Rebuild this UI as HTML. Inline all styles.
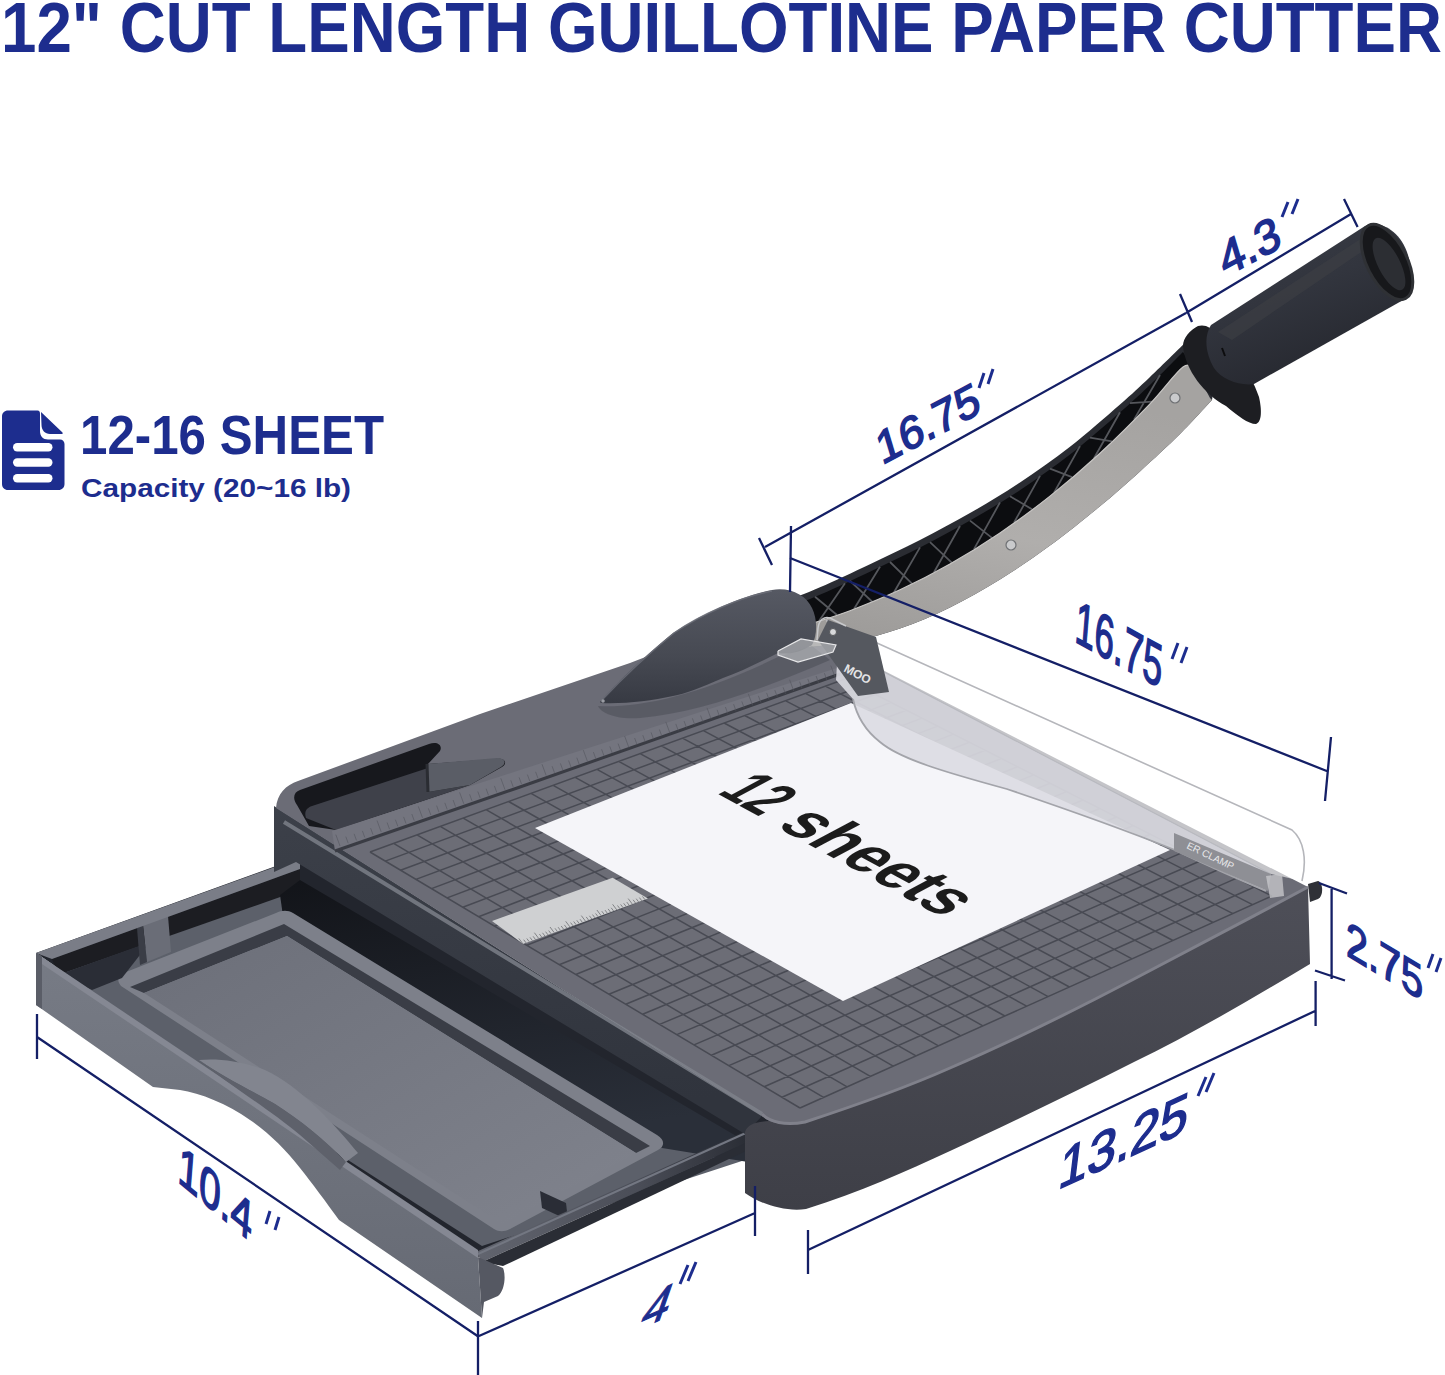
<!DOCTYPE html>
<html><head><meta charset="utf-8">
<style>
html,body{margin:0;padding:0;background:#fff;width:1445px;height:1375px;overflow:hidden}
svg{display:block;position:absolute;left:0;top:0}
text{font-family:"Liberation Sans",sans-serif}
</style></head>
<body>
<svg width="1445" height="1375" viewBox="0 0 1445 1375">
<defs>
  <linearGradient id="gSteel" x1="0" y1="1" x2="0.3" y2="0">
    <stop offset="0" stop-color="#9a9896"/>
    <stop offset="0.5" stop-color="#b0aeac"/>
    <stop offset="1" stop-color="#a5a3a1"/>
  </linearGradient>
  <linearGradient id="gCone" x1="0" y1="0" x2="0" y2="1">
    <stop offset="0" stop-color="#565963"/>
    <stop offset="0.6" stop-color="#464952"/>
    <stop offset="1" stop-color="#373a43"/>
  </linearGradient>
  <linearGradient id="gGrip" x1="0" y1="0" x2="0.5" y2="1">
    <stop offset="0" stop-color="#3a3d46"/>
    <stop offset="0.5" stop-color="#32353e"/>
    <stop offset="1" stop-color="#25272e"/>
  </linearGradient>
  <linearGradient id="gFloor" x1="0" y1="0" x2="1" y2="1">
    <stop offset="0" stop-color="#6c6f79"/>
    <stop offset="1" stop-color="#80838d"/>
  </linearGradient>
  <linearGradient id="gChan" x1="0" y1="0" x2="0.3" y2="1">
    <stop offset="0" stop-color="#121419"/>
    <stop offset="1" stop-color="#2a2f39"/>
  </linearGradient>
  <linearGradient id="gPanel" x1="0" y1="0" x2="0" y2="1">
    <stop offset="0" stop-color="#777b85"/>
    <stop offset="1" stop-color="#666a74"/>
  </linearGradient>
  <linearGradient id="gFront" x1="0" y1="0" x2="0" y2="1">
    <stop offset="0" stop-color="#4e4f58"/>
    <stop offset="1" stop-color="#3e3f47"/>
  </linearGradient>
  <linearGradient id="gBand" x1="0" y1="0" x2="0.15" y2="1">
    <stop offset="0" stop-color="#3c4049"/>
    <stop offset="1" stop-color="#30343d"/>
  </linearGradient>
  <linearGradient id="gRim" x1="0" y1="0" x2="1" y2="0" gradientUnits="objectBoundingBox">
    <stop offset="0" stop-color="#62656f"/>
    <stop offset="0.6" stop-color="#4a4d57"/>
    <stop offset="1" stop-color="#2a2d35"/>
  </linearGradient>
</defs>
<rect width="1445" height="1375" fill="#fff"/>

<text x="1" y="52" font-size="69.5" font-weight="bold" fill="#1d2d8e" textLength="1441" lengthAdjust="spacingAndGlyphs">12" CUT LENGTH GUILLOTINE PAPER CUTTER</text>
<g fill="#1d2d8e">
<path d="M8,410.5 L37.5,410.5 C39.5,410.5 40,412 40,414 L40,431 C40,436 43,439.5 48,439.5 L60,439.5 C62.5,439.5 64.5,441.5 64.5,444 L64.5,484 C64.5,487.5 62,490 58.5,490 L8,490 C4.5,490 2,487.5 2,484 L2,416.5 C2,413 4.5,410.5 8,410.5 Z"/>
<path d="M41,412 L62.5,432.5 C63,433.5 62.5,434 61.5,434 L50,434 C45,434 41.5,430 41.5,425 Z"/>
</g>
<g fill="#fff">
<rect x="13" y="443" width="39.5" height="8.5" rx="4.2"/>
<rect x="13" y="458.2" width="39.5" height="8.5" rx="4.2"/>
<rect x="13" y="474" width="39.5" height="8.5" rx="4.2"/>
</g>
<text x="80" y="454" font-size="55" font-weight="bold" fill="#1d2d8e" textLength="304" lengthAdjust="spacingAndGlyphs">12-16 SHEET</text>
<text x="81" y="497" font-size="25" font-weight="bold" fill="#1d2d8e" textLength="270" lengthAdjust="spacingAndGlyphs">Capacity (20~16 lb)</text>
<polygon points="36.0,953.0 320.0,850.0 780.0,1125.0 478.0,1257.0" fill="#22252d"/>
<polygon points="52.0,970.0 296.0,888.0 745.0,1160.0 482.0,1246.0" fill="#5c606a"/>
<polygon points="52.0,959.0 300.0,869.0 300.0,890.0 58.0,975.0" fill="#1c1d22"/>
<polygon points="280,895 300,880 760,1150 748,1162 662,1148 283,916" fill="url(#gChan)"/>
<path d="M121,986 C116,980 118,975 126,972 L276,913 C282,910 288,910 293,913 L657,1135 C665,1140 665,1146 658,1150 L510,1229 C504,1232 499,1232 494,1229 Z" fill="#7d808a"/>
<path d="M130,987 L284,924 L650,1146 L636,1153 L287,936 L144,993 Z" fill="#3a3d46"/>
<path d="M144,993 L287,936 L636,1153 L502,1224 Z" fill="url(#gFloor)"/>
<polygon points="58.0,975.0 150.0,942.0 122.0,978.0 92.0,990.0" fill="#2a2d36"/>
<polygon points="143.0,925.0 168.0,916.0 171.0,952.0 147.0,962.0" fill="#6a6d77"/>
<polygon points="143.0,925.0 147.0,962.0 140.0,965.0 137.0,928.0" fill="#3a3d46"/>
<polygon points="540.0,1191.0 566.0,1203.0 568.0,1220.0 542.0,1208.0" fill="#2a2d36"/>
<polygon points="36.0,953.0 300.0,858.0 300.0,869.0 52.0,959.0" fill="#7a7d87"/>
<polygon points="476.0,1252.0 748.0,1130.0 748.0,1142.0 482.0,1262.0" fill="url(#gRim)"/>
<polygon points="482.0,1262.0 748.0,1142.0 748.0,1150.0 503.0,1266.0" fill="#2a2d35"/>
<path d="M478,1254 L748,1132" stroke="#737782" stroke-width="2" fill="none"/>
<path d="M36,953 L478,1257 L482,1318 L339,1220 C326,1202 312,1183 300,1168 C286,1150 268,1132 250,1120 C228,1104 200,1093 180,1090 L153,1087 L36,1005 Z" fill="url(#gPanel)"/>
<polygon points="36.0,953.0 478.0,1250.0 478.0,1258.0 36.0,960.0" fill="#858893"/>
<polygon points="36.0,953.0 42.0,956.0 42.0,1009.0 36.0,1005.0" fill="#5a5d67"/>
<path d="M199,1060 C220,1058 245,1062 265,1070 C300,1086 335,1125 358,1153 L346,1162 C325,1140 300,1120 275,1104 C250,1090 220,1075 199,1060 Z" fill="#82858f"/>
<path d="M346,1162 C325,1140 300,1120 275,1104 C250,1090 220,1075 199,1060 C225,1082 270,1110 300,1135 L340,1170 Z" fill="#5e616b"/>
<path d="M478,1257 L503,1268 C506,1275 505,1290 498,1296 L484,1302 L482,1318 Z" fill="#555862"/>
<polygon points="274.0,806.0 762.0,1116.0 745.0,1134.0 296.0,862.0 274.0,872.0" fill="url(#gBand)"/>
<path d="M745,1132 C748,1124 755,1122 770,1121 L805,1122 C860,1104 905,1088 950,1068 C1010,1042 1075,1010 1134,979 C1190,950 1250,918 1308,887 L1310,964 C1250,1000 1190,1035 1134,1062 C1075,1092 1010,1123 950,1151 C905,1172 860,1192 806,1209 C785,1212 760,1204 745,1193 Z" fill="url(#gFront)"/>
<path d="M276,808 C277,794 286,785 298,781 L480,714 L630,663 L720,628 L812,634 L1308,887 C1250,918 1190,950 1134,979 C1075,1010 1010,1042 950,1068 C905,1088 860,1104 805,1122 C785,1126 770,1124 762,1116 L276,808 Z" fill="#6b6c76"/>
<path d="M762,1114 C770,1122 785,1126 805,1122 C860,1104 905,1088 950,1068 C1010,1042 1075,1010 1134,979 C1190,950 1250,918 1308,887" fill="none" stroke="#80818b" stroke-width="3"/>
<path d="M284,822 L762,1114" stroke="#80838c" stroke-width="4" fill="none" opacity="0.8"/>
<path d="M297,805 C292,798 294,792 300,790 L429,744 C437,741 443,745 440,751 L428,764 L496,759 C505,758 508,763 502,767 L470,785 L336,830 L309,826 Z" fill="#17181d"/>
<path d="M306,818 C304,812 306,808 312,806 L428,768 L428,792 L470,785 L336,830 Z" fill="#3f414a"/>
<path d="M427,764 L497,758 C505,758 507,763 501,767 L470,785 L428,792 Z" fill="#5a5d66"/>
<path d="M427,764 L428,792" stroke="#2a2c32" stroke-width="3"/>
<polygon points="332,831 520,770 840,667 840,674 520,787 335,851" fill="#74757f"/>
<polyline points="335,851 520,787 840,674" fill="none" stroke="#3a3c44" stroke-width="3"/>
<path d="M340.0,846.0l-4.2,-11.4M348.2,843.2l-2.4,-6.6M356.5,840.4l-2.4,-6.6M364.8,837.5l-2.4,-6.6M373.0,834.7l-2.4,-6.6M381.2,831.9l-4.2,-11.4M389.5,829.1l-2.4,-6.6M397.8,826.3l-2.4,-6.6M406.0,823.5l-2.4,-6.6M414.2,820.6l-2.4,-6.6M422.5,817.8l-4.2,-11.4M430.8,815.0l-2.4,-6.6M439.0,812.2l-2.4,-6.6M447.2,809.4l-2.4,-6.6M455.5,806.6l-2.4,-6.6M463.8,803.8l-4.2,-11.4M472.0,800.9l-2.4,-6.6M480.2,798.1l-2.4,-6.6M488.5,795.3l-2.4,-6.6M496.8,792.5l-2.4,-6.6M505.0,789.7l-4.2,-11.4M513.2,786.9l-2.4,-6.6M521.5,784.0l-2.4,-6.6M529.8,781.2l-2.4,-6.6M538.0,778.4l-2.4,-6.6M546.2,775.6l-4.2,-11.4M554.5,772.8l-2.4,-6.6M562.8,770.0l-2.4,-6.6M571.0,767.1l-2.4,-6.6M579.2,764.3l-2.4,-6.6M587.5,761.5l-4.2,-11.4M595.8,758.7l-2.4,-6.6M604.0,755.9l-2.4,-6.6M612.2,753.0l-2.4,-6.6M620.5,750.2l-2.4,-6.6M628.8,747.4l-4.2,-11.4M637.0,744.6l-2.4,-6.6M645.2,741.8l-2.4,-6.6M653.5,739.0l-2.4,-6.6M661.8,736.1l-2.4,-6.6M670.0,733.3l-4.2,-11.4M678.2,730.5l-2.4,-6.6M686.5,727.7l-2.4,-6.6M694.8,724.9l-2.4,-6.6M703.0,722.1l-2.4,-6.6M711.2,719.2l-4.2,-11.4M719.5,716.4l-2.4,-6.6M727.8,713.6l-2.4,-6.6M736.0,710.8l-2.4,-6.6M744.2,708.0l-2.4,-6.6M752.5,705.2l-4.2,-11.4M760.8,702.4l-2.4,-6.6M769.0,699.5l-2.4,-6.6M777.2,696.7l-2.4,-6.6M785.5,693.9l-2.4,-6.6M793.8,691.1l-4.2,-11.4M802.0,688.3l-2.4,-6.6M810.2,685.5l-2.4,-6.6M818.5,682.6l-2.4,-6.6M826.8,679.8l-2.4,-6.6M835.0,677.0l-4.2,-11.4" stroke="#53555e" stroke-width="1" fill="none" opacity="0.6"/>
<polygon points="370.0,852.0 845.0,679.0 1272.0,896.0 800.0,1108.0" fill="#6c6d76"/>
<path d="M370.0,852.0L800.0,1108.0M393.6,843.4L823.6,1097.4M417.0,834.9L847.1,1086.9M440.2,826.4L870.3,1076.4M463.2,818.1L893.2,1066.1M486.0,809.7L916.0,1055.9M508.6,801.5L938.5,1045.8M531.0,793.4L960.8,1035.8M553.2,785.3L982.9,1025.8M575.2,777.3L1004.9,1016.0M597.0,769.3L1026.6,1006.2M618.7,761.4L1048.1,996.6M640.1,753.6L1069.4,987.0M661.4,745.9L1090.5,977.5M682.5,738.2L1111.4,968.1M703.4,730.6L1132.1,958.8M724.1,723.0L1152.6,949.6M744.7,715.5L1173.0,940.5M765.1,708.1L1193.1,931.4M785.3,700.7L1213.1,922.5M805.4,693.4L1232.9,913.6M825.3,686.2L1252.5,904.7M845.0,679.0L1272.0,896.0M370.0,852.0L845.0,679.0M385.2,861.1L860.2,686.7M400.5,870.2L875.5,694.5M415.9,879.4L891.0,702.4M431.5,888.6L906.4,710.2M447.1,897.9L922.0,718.1M462.8,907.2L937.7,726.1M478.6,916.7L953.5,734.1M494.5,926.1L969.4,742.2M510.5,935.7L985.3,750.3M526.7,945.3L1001.4,758.5M542.9,954.9L1017.5,766.7M559.2,964.7L1033.8,774.9M575.7,974.5L1050.1,783.2M592.3,984.3L1066.6,791.6M608.9,994.2L1083.1,800.0M625.7,1004.2L1099.8,808.5M642.6,1014.3L1116.5,817.0M659.6,1024.4L1133.4,825.5M676.8,1034.6L1150.3,834.2M694.0,1044.9L1167.4,842.8M711.4,1055.2L1184.6,851.6M728.9,1065.6L1201.8,860.3M746.5,1076.1L1219.2,869.2M764.2,1086.7L1236.7,878.1M782.0,1097.3L1254.3,887.0M800.0,1108.0L1272.0,896.0" stroke="#484a53" stroke-width="1.5" fill="none"/>
<polygon points="492,921 612.6,877.7 648,898.5 523,944" fill="#cfd0d2"/>
<path d="M523.0,944.0l-4.2,-5.6M526.1,942.9l-2.4,-3.2M529.2,941.7l-2.4,-3.2M532.4,940.6l-2.4,-3.2M535.5,939.5l-2.4,-3.2M538.6,938.3l-4.2,-5.6M541.8,937.2l-2.4,-3.2M544.9,936.0l-2.4,-3.2M548.0,934.9l-2.4,-3.2M551.1,933.8l-2.4,-3.2M554.2,932.6l-4.2,-5.6M557.4,931.5l-2.4,-3.2M560.5,930.4l-2.4,-3.2M563.6,929.2l-2.4,-3.2M566.8,928.1l-2.4,-3.2M569.9,926.9l-4.2,-5.6M573.0,925.8l-2.4,-3.2M576.1,924.7l-2.4,-3.2M579.2,923.5l-2.4,-3.2M582.4,922.4l-2.4,-3.2M585.5,921.2l-4.2,-5.6M588.6,920.1l-2.4,-3.2M591.8,919.0l-2.4,-3.2M594.9,917.8l-2.4,-3.2M598.0,916.7l-2.4,-3.2M601.1,915.6l-4.2,-5.6M604.2,914.4l-2.4,-3.2M607.4,913.3l-2.4,-3.2M610.5,912.1l-2.4,-3.2M613.6,911.0l-2.4,-3.2M616.8,909.9l-4.2,-5.6M619.9,908.7l-2.4,-3.2M623.0,907.6l-2.4,-3.2M626.1,906.5l-2.4,-3.2M629.2,905.3l-2.4,-3.2M632.4,904.2l-4.2,-5.6M635.5,903.0l-2.4,-3.2M638.6,901.9l-2.4,-3.2M641.8,900.8l-2.4,-3.2M644.9,899.6l-2.4,-3.2" stroke="#6f7074" stroke-width="0.8" fill="none"/>
<polygon points="535,828 851,703 1170,850 843,1001" fill="#f5f5f9"/>
<text transform="matrix(0.877,0.479,-0.88,0.47,716,793)" font-size="70" font-weight="bold" fill="#1c1c1c" textLength="50" lengthAdjust="spacingAndGlyphs">12</text>
<text transform="matrix(0.877,0.479,-0.88,0.47,775,826)" font-size="70" font-weight="bold" fill="#1c1c1c" textLength="192" lengthAdjust="spacingAndGlyphs">sheets</text>
<path d="M786,601 C791.7,598.7 806.0,593.4 820,587.3 C834.0,581.2 853.3,572.1 870,564.2 C886.7,556.3 903.3,548.4 920,539.9 C936.7,531.4 953.3,522.7 970,513.1 C986.7,503.5 1003.3,493.6 1020,482.5 C1036.7,471.4 1053.3,459.7 1070,446.7 C1086.7,433.7 1106.7,416.1 1120,404.5 C1133.3,392.9 1138.3,388.1 1150,377 C1161.7,365.9 1183.3,344.5 1190,338 L1215,380 L1212,400 C1206.7,405.7 1192.0,422.1 1180,434 C1168.0,445.9 1153.3,459.3 1140,471.4 C1126.7,483.4 1115.0,493.9 1100,506.3 C1085.0,518.7 1066.7,533.4 1050,545.6 C1033.3,557.8 1016.7,569.2 1000,579.5 C983.3,589.8 966.7,599.2 950,607.4 C933.3,615.6 916.7,622.7 900,628.5 C883.3,634.3 866.7,638.9 850,642.1 C833.3,645.4 808.3,647.0 800,648 Z" fill="#2a2c32"/>
<path d="M787,608 C792.7,605.7 807.0,600.4 821,594.3 C835.0,588.2 854.3,579.1 871,571.2 C887.7,563.3 904.3,555.4 921,546.9 C937.7,538.4 954.3,529.7 971,520.1 C987.7,510.5 1004.3,500.6 1021,489.5 C1037.7,478.4 1054.3,466.7 1071,453.7 C1087.7,440.7 1107.7,423.1 1121,411.5 C1134.3,399.9 1140.7,393.9 1151,384 C1161.3,374.1 1177.7,357.3 1183,352 L1195,370 C1193.0,369.5 1190.5,361.4 1183,367 C1175.5,372.6 1163.8,389.4 1150,403.8 C1136.2,418.2 1116.7,437.8 1100,453.2 C1083.3,468.6 1066.7,482.8 1050,496.1 C1033.3,509.4 1016.7,521.6 1000,532.9 C983.3,544.2 966.7,554.5 950,564 C933.3,573.5 916.7,582.0 900,589.8 C883.3,597.6 864.7,605.1 850,610.7 C835.3,616.3 818.3,621.3 812,623.4 Z" fill="#0c0d10"/>
<path d="M815,596.7L837,615.0M845,583.2L819,621.1M850,580.9L872,601.5M880,566.8L854,609.0M890,562.0L912,583.6M920,547.4L894,592.3M930,542.1L952,562.8M960,526.0L934,572.3M970,520.6L992,537.9M1000,502.4L974,549.1M1010,496.2L1032,509.3M1040,475.9L1014,522.6M1050,468.7L1072,477.2M1080,446.1L1054,492.7M1090,437.7L1112,441.3M1120,412.3L1094,458.3M1130,403.2L1152,401.6M1160,375.0L1134,419.6" stroke="#55575c" stroke-width="1.8" fill="none"/>
<path d="M812,623.4 C818.3,621.3 835.3,616.3 850,610.7 C864.7,605.1 883.3,597.6 900,589.8 C916.7,582.0 933.3,573.5 950,564 C966.7,554.5 983.3,544.2 1000,532.9 C1016.7,521.6 1033.3,509.4 1050,496.1 C1066.7,482.8 1083.3,468.6 1100,453.2 C1116.7,437.8 1136.2,418.2 1150,403.8 C1163.8,389.4 1175.5,372.6 1183,367 C1190.5,361.4 1193.0,369.5 1195,370 L1210,398 L1212,400 C1206.7,405.7 1192.0,422.1 1180,434 C1168.0,445.9 1153.3,459.3 1140,471.4 C1126.7,483.4 1115.0,493.9 1100,506.3 C1085.0,518.7 1066.7,533.4 1050,545.6 C1033.3,557.8 1016.7,569.2 1000,579.5 C983.3,589.8 966.7,599.2 950,607.4 C933.3,615.6 916.7,622.7 900,628.5 C883.3,634.3 866.7,638.9 850,642.1 C833.3,645.4 808.3,647.0 800,648 Z" fill="url(#gSteel)"/>
<path d="M812,623.4 C818.3,621.3 835.3,616.3 850,610.7 C864.7,605.1 883.3,597.6 900,589.8 C916.7,582.0 933.3,573.5 950,564 C966.7,554.5 983.3,544.2 1000,532.9 C1016.7,521.6 1033.3,509.4 1050,496.1 C1066.7,482.8 1083.3,468.6 1100,453.2 C1116.7,437.8 1136.2,418.2 1150,403.8 C1163.8,389.4 1175.5,372.6 1183,367 C1190.5,361.4 1193.0,369.5 1195,370" stroke="#c8c6c4" stroke-width="1.2" fill="none"/>
<circle cx="1011" cy="545" r="5" fill="#c9cacc" stroke="#6f7174" stroke-width="1.2"/>
<circle cx="1175" cy="398" r="5" fill="#c9cacc" stroke="#6f7174" stroke-width="1.2"/>
<path d="M600,702 C615,685 640,660 673,633 C700,615 740,596 772,590 C790,587 806,595 812,608 C818,620 817,636 812,645 C800,652 790,655 778,653 C760,662 740,672 723,678 C700,688 685,694 673,696 C650,701 625,704 601,703 Z" fill="url(#gCone)"/>
<path d="M598,706 C640,708 700,695 778,657 L812,646 L830,660 C760,690 700,712 640,718 C615,720 600,712 598,706 Z" fill="#3a3c44" opacity="0.35"/>
<path d="M602,700 C618,683 642,659 674,633 C700,615 740,597 772,591" fill="none" stroke="#6e717a" stroke-width="1.5" opacity="0.8"/>
<circle cx="603" cy="701" r="1.8" fill="#9a9ca3"/>
<path d="M838,648 L1271,874 L1266,891 C1230,876 1200,862 1173.7,849.5 C1120,828 1069,810 1006.8,789 C944.5,772 900,759 880,742 C862,728 856,713 853,699 L836,680 Z" fill="#dcdce2" opacity="0.9"/>
<path d="M853,699 C856,713 862,728 880,742 C900,759 944.5,772 1006.8,789 C1069,810 1120,828 1173.7,849.5 C1200,862 1230,876 1266,891" fill="none" stroke="#a3a4aa" stroke-width="1.8"/>
<path d="M826,620 L1292,830 C1304,840 1307,860 1302,881 L1271,874 L838,648 Z" fill="#ffffff" opacity="0.6"/>
<path d="M826,620 L1292,830 C1304,840 1307,860 1302,881" fill="none" stroke="#b5b6bb" stroke-width="1.6"/>
<path d="M838,648 L1271,874" fill="none" stroke="#b9bac0" stroke-width="1.2"/>
<polygon points="818,640 828,620 876,637 889,692 858,696 838,668" fill="#55585f"/>
<text transform="matrix(0.88,0.47,-0.47,0.88,843,671)" font-size="12" font-weight="bold" fill="#e4e4e6">MOO</text>
<polygon points="1174,833 1271,874 1268,891 1174,851" fill="#8e8f95"/>
<text transform="matrix(0.9,0.43,-0.43,0.9,1186,848)" font-size="10" fill="#e8e8ea">ER CLAMP</text>
<path d="M817,640 L818,628 C819,620 824,616 830,618 L846,626" fill="none" stroke="#c8c9cc" stroke-width="1.5"/>
<circle cx="833" cy="632" r="3.5" fill="#d8d9db" stroke="#55575a" stroke-width="1"/>
<polygon points="778,651 801,639 836,645 833,652 798,662 778,655" fill="#d0d1d4" opacity="0.55"/>
<polyline points="778,651 801,639 836,645 833,652 798,662 778,655 778,651" fill="none" stroke="#e8e8ea" stroke-width="1.2"/>
<polygon points="1266,876 1282,874 1284,896 1270,898" fill="#c5c6c9" opacity="0.8"/>
<path d="M1308,884 L1318,881 C1323,882 1324,896 1318,899 L1310,902 Z" fill="#2f3137"/>
<path d="M1198,326 C1190,330 1183,338 1183,346 C1185,370 1205,395 1226,406 C1238,416 1248,424 1256,424 C1262,422 1262,410 1259,397 C1250,370 1228,340 1210,328 C1206,325 1201,325 1198,326 Z" fill="#1d1e22"/>
<path d="M1211,325 L1365,226 C1380,220 1400,230 1408,255 C1414,275 1412,293 1405,299 L1254,384 C1240,386 1222,380 1214,368 C1205,352 1204,336 1211,325 Z" fill="url(#gGrip)"/>
<path d="M1218,332 L1362,238 C1368,236 1372,240 1370,246 L1232,340 Z" fill="#3d3f45" opacity="0.6"/>
<ellipse cx="1387" cy="262" rx="20" ry="41" transform="rotate(-27 1387 262)" fill="#17181b" stroke="#2f3135" stroke-width="3"/>
<ellipse cx="1389" cy="264" rx="11" ry="29" transform="rotate(-27 1389 264)" fill="#2c2e33"/>
<path d="M1222,348 l3,8" stroke="#0c0c0e" stroke-width="2"/>
<path d="M1186,313 L1351,214 M1344,199 L1357.6,227 M1180,294 L1192,322" stroke="#141f66" stroke-width="2.3" fill="none"/>
<path d="M765,547 L1186,313 M759,538 L772,565 M791,526 L790,592" stroke="#141f66" stroke-width="2.3" fill="none"/>
<path d="M790,558 L1328,771.5 M1331,737 L1325,801" stroke="#141f66" stroke-width="2.3" fill="none"/>
<path d="M1331.6,889 L1331.6,979 M1319,883 L1347,893.5 M1315,970.5 L1345,980.5" stroke="#141f66" stroke-width="2.3" fill="none"/>
<path d="M808,1250 L1315.6,1010.7 M808,1230 L808,1274 M1315.6,981 L1315.6,1026" stroke="#141f66" stroke-width="2.3" fill="none"/>
<path d="M479,1336 L755,1213 M478,1321 L478,1375 M755,1186 L755,1236" stroke="#141f66" stroke-width="2.3" fill="none"/>
<path d="M37,1037 L479,1337 M37,1014 L37,1059" stroke="#141f66" stroke-width="2.3" fill="none"/>
<text transform="matrix(0.884,-0.467,0.287,0.958,1225,277)" font-size="47" font-weight="normal" fill="#1d2d8e" stroke="#1d2d8e" stroke-width="1.6" textLength="66" lengthAdjust="spacingAndGlyphs">4.3</text>
<path d="M1282,217l6,-15M1292,214l6,-15" stroke="#1d2d8e" stroke-width="3" stroke-linecap="butt" fill="none"/>
<text transform="matrix(0.884,-0.467,0.287,0.958,882,465)" font-size="45" font-weight="normal" fill="#1d2d8e" stroke="#1d2d8e" stroke-width="1.6" textLength="114" lengthAdjust="spacingAndGlyphs">16.75</text>
<path d="M979,388l5,-15M988,384l5,-15" stroke="#1d2d8e" stroke-width="3" stroke-linecap="butt" fill="none"/>
<text transform="matrix(0.877,0.481,-0.08,0.997,1074,641)" font-size="60" font-weight="normal" fill="#1d2d8e" stroke="#1d2d8e" stroke-width="1.6" textLength="99" lengthAdjust="spacingAndGlyphs">16.75</text>
<path d="M1172,659l6,-16M1181,663l6,-16" stroke="#1d2d8e" stroke-width="3" stroke-linecap="butt" fill="none"/>
<text transform="matrix(0.857,0.514,0,1,1346,955)" font-size="50" font-weight="normal" fill="#1d2d8e" stroke="#1d2d8e" stroke-width="1.6" textLength="90" lengthAdjust="spacingAndGlyphs">2.75</text>
<path d="M1428,968l5,-14M1436,972l5,-14" stroke="#1d2d8e" stroke-width="3" stroke-linecap="butt" fill="none"/>
<text transform="matrix(0.91,-0.415,-0.12,0.993,1057,1190)" font-size="58" font-weight="normal" fill="#1d2d8e" stroke="#1d2d8e" stroke-width="1.6" textLength="142" lengthAdjust="spacingAndGlyphs">13.25</text>
<path d="M1198,1096l8,-19M1206,1092l8,-19" stroke="#1d2d8e" stroke-width="3" stroke-linecap="butt" fill="none"/>
<text transform="matrix(0.91,-0.415,-0.33,0.94,638,1330)" font-size="56" font-weight="normal" fill="#1d2d8e" stroke="#1d2d8e" stroke-width="1.6" textLength="30" lengthAdjust="spacingAndGlyphs">4</text>
<path d="M680,1284l8,-19M688,1281l8,-19" stroke="#1d2d8e" stroke-width="3" stroke-linecap="butt" fill="none"/>
<text transform="matrix(0.77,0.638,-0.077,0.997,177,1181)" font-size="54" font-weight="normal" fill="#1d2d8e" stroke="#1d2d8e" stroke-width="1.6" textLength="96" lengthAdjust="spacingAndGlyphs">10.4</text>
<path d="M266,1224l4,-13M275,1230l4,-13" stroke="#1d2d8e" stroke-width="3" stroke-linecap="butt" fill="none"/>
</svg></body></html>
